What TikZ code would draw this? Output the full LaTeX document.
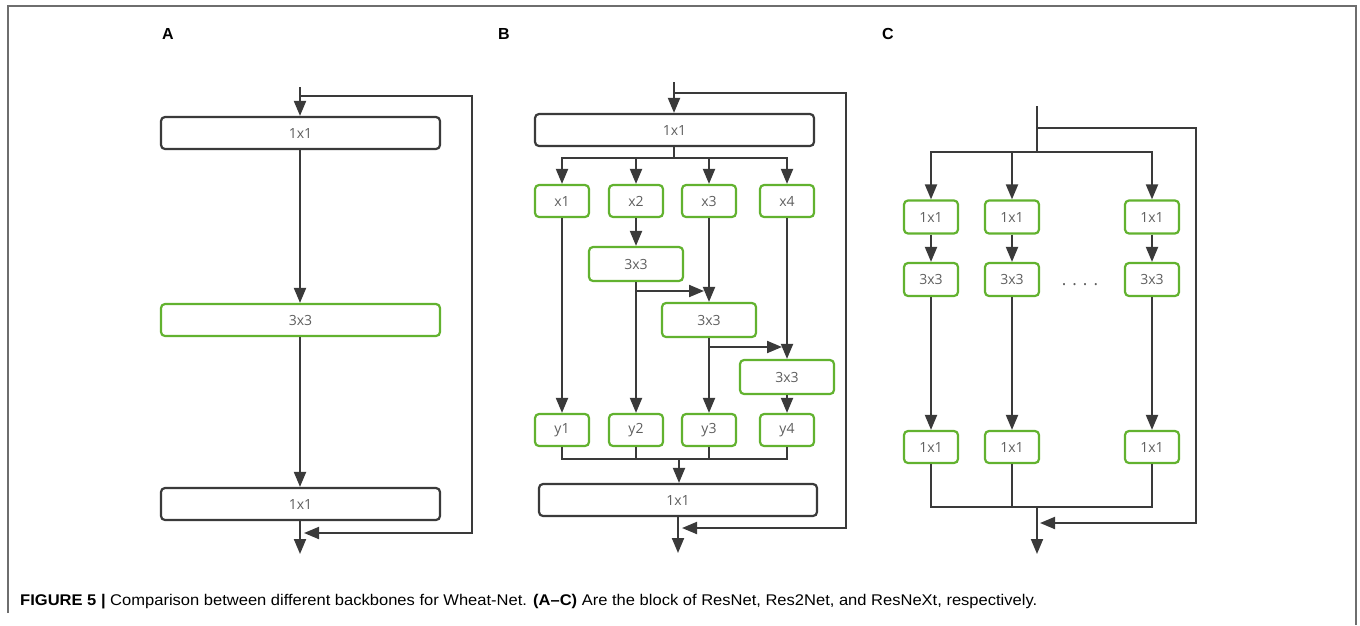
\documentclass[tikz,border=0pt]{standalone}
\usepackage{fontspec}
\usepackage{graphicx}
\setmainfont{Liberation Sans}
\newfontfamily\boxfont{Open Sans}
\usetikzlibrary{arrows.meta}
\definecolor{lineC}{HTML}{3A3A3A}
\definecolor{greenC}{HTML}{62B22F}
\definecolor{textC}{HTML}{5E5E5E}
\definecolor{frameC}{HTML}{6E6E6E}
\begin{document}
\begin{tikzpicture}[x=1pt,y=-1pt,
 box/.style={rounded corners=4pt, line width=2.2pt, inner sep=0pt, font=\boxfont\fontsize{14}{16}\selectfont, text=textC},
 kbox/.style={box, draw=lineC},
 gbox/.style={box, draw=greenC},
 conn/.style={draw=lineC, line width=2pt},
 arr/.style={conn, -{Triangle[length=15pt,width=12pt]}},
 lbl/.style={font=\bfseries\fontsize{16}{18}\selectfont},
]
\useasboundingbox (0,0) rectangle (1360,625);
% frame
\draw[frameC, line width=1.5pt] (8,613) -- (8,6) -- (1356,6) -- (1356,625);

% ---------------- Panel A ----------------
\node[lbl] (la) at (168,34) {A};
\coordinate (Ain) at (300,87);
\coordinate (Ask) at (300,96);
\node[kbox, minimum width=279pt, minimum height=32pt] (A1) at (300.5,133) {1x1};
\node[gbox, minimum width=279pt, minimum height=32pt] (A2) at (300.5,320) {3x3};
\node[kbox, minimum width=279pt, minimum height=32pt] (A3) at (300.5,504) {1x1};
\coordinate (Aj) at (304,533);
\coordinate (Aout) at (300,554);
\draw[arr] (Ain) -- (Ain |- A1.north);
\draw[arr] (Ain |- A1.south) -- (Ain |- A2.north);
\draw[arr] (Ain |- A2.south) -- (Ain |- A3.north);
\draw[arr] (Ain |- A3.south) -- (Aout);
\draw[arr] (Ask) -- ++(172,0) |- (Aj);

% ---------------- Panel B ----------------
\node[lbl] (lb) at (504,34) {B};
\coordinate (Bin) at (674,82);
\coordinate (Bsk) at (674,93);
\node[kbox, minimum width=279pt, minimum height=32pt] (B1) at (674.5,130) {1x1};
\coordinate (Bs) at (674,158);
\node[gbox, minimum width=54pt, minimum height=32pt] (x1) at (562,201) {x1};
\node[gbox, minimum width=54pt, minimum height=32pt] (x2) at (636,201) {x2};
\node[gbox, minimum width=54pt, minimum height=32pt] (x3) at (709,201) {x3};
\node[gbox, minimum width=54pt, minimum height=32pt] (x4) at (787,201) {x4};
\node[gbox, minimum width=94pt, minimum height=34pt] (P1) at (636,264) {3x3};
\node[gbox, minimum width=94pt, minimum height=34pt] (P2) at (709,320) {3x3};
\node[gbox, minimum width=94pt, minimum height=34pt] (P3) at (787,377) {3x3};
\node[gbox, minimum width=54pt, minimum height=32pt] (y1) at (562,430) {y1};
\node[gbox, minimum width=54pt, minimum height=32pt] (y2) at (636,430) {y2};
\node[gbox, minimum width=54pt, minimum height=32pt] (y3) at (709,430) {y3};
\node[gbox, minimum width=54pt, minimum height=32pt] (y4) at (787,430) {y4};
\coordinate (Bm) at (679,459);
\node[kbox, minimum width=278pt, minimum height=32pt] (B2) at (678,500) {1x1};
\coordinate (Bj) at (682,528);
\coordinate (Bout) at (678,553);
\coordinate (b1) at (636,291);
\coordinate (b2) at (709,347);

\draw[arr] (Bin) -- (Bin |- B1.north);
\draw[conn] (Bin |- B1.south) -- (Bs);
\draw[arr] (Bs) -| (x1.north);
\draw[arr] (Bs) -| (x2.north);
\draw[arr] (Bs) -| (x3.north);
\draw[arr] (Bs) -| (x4.north);
\draw[arr] (x1) -- (y1);
\draw[arr] (x2) -- (P1);
\draw[arr] (P1) -- (y2);
\draw[arr] (x3) -- (P2);
\draw[arr] (P2) -- (y3);
\draw[arr] (x4) -- (P3);
\draw[arr] (P3) -- (y4);
\draw[arr] (b1) -- ([xshift=-5pt]b1 -| x3.south);
\draw[arr] (b2) -- ([xshift=-5pt]b2 -| x4.south);
\draw[conn] (y1.south) |- (Bm);
\draw[conn] (y4.south) |- (Bm);
\draw[conn] (y2.south) -- (y2.south |- Bm);
\draw[conn] (y3.south) -- (y3.south |- Bm);
\draw[arr] (Bm) -- (Bm |- B2.north);
\draw[arr] (B2.south) -- (Bout);
\draw[arr] (Bsk) -- ++(172,0) |- (Bj);

% ---------------- Panel C ----------------
\node[lbl] (lc) at (888,34) {C};
\coordinate (Cin) at (1037,106);
\coordinate (Csk) at (1037,128);
\coordinate (Cs) at (1037,152);
\node[gbox, minimum width=54pt, minimum height=33pt] (t1) at (931,217) {1x1};
\node[gbox, minimum width=54pt, minimum height=33pt] (t2) at (1012,217) {1x1};
\node[gbox, minimum width=54pt, minimum height=33pt] (t3) at (1152,217) {1x1};
\node[gbox, minimum width=54pt, minimum height=33pt] (m1) at (931,279.5) {3x3};
\node[gbox, minimum width=54pt, minimum height=33pt] (m2) at (1012,279.5) {3x3};
\node[gbox, minimum width=54pt, minimum height=33pt] (m3) at (1152,279.5) {3x3};
\node[gbox, minimum width=54pt, minimum height=32pt] (n1) at (931,447) {1x1};
\node[gbox, minimum width=54pt, minimum height=32pt] (n2) at (1012,447) {1x1};
\node[gbox, minimum width=54pt, minimum height=32pt] (n3) at (1152,447) {1x1};
\node[anchor=base, font=\boxfont\fontsize{17}{19}\selectfont, text=textC] (dots) at (1080,285) {.\hspace{6pt}.\hspace{6pt}.\hspace{6pt}.};
\coordinate (Cm) at (1037,507);
\coordinate (Cj) at (1040,523);
\coordinate (Cout) at (1037,554);

\draw[conn] (Cin) -- (Cs);
\draw[arr] (Cs) -| (t1.north);
\draw[arr] (Cs) -| (t2.north);
\draw[arr] (Cs) -| (t3.north);
\draw[arr] (t1) -- (m1);
\draw[arr] (t2) -- (m2);
\draw[arr] (t3) -- (m3);
\draw[arr] (m1) -- (n1);
\draw[arr] (m2) -- (n2);
\draw[arr] (m3) -- (n3);
\draw[conn] (n1.south) |- (Cm);
\draw[conn] (n3.south) |- (Cm);
\draw[conn] (n2.south) -- (n2.south |- Cm);
\draw[arr] (Cm) -- (Cout);
\draw[arr] (Csk) -- ++(159,0) |- (Cj);

% caption
\node[anchor=west, inner sep=0pt, font=\fontsize{15.5}{18}\selectfont] (cap) at (20,602) {\resizebox{1017pt}{\height}{\textbf{FIGURE 5 |} Comparison between different backbones for Wheat-Net. \textbf{(A–C)} Are the block of ResNet, Res2Net, and ResNeXt, respectively.}};
\end{tikzpicture}
\end{document}
